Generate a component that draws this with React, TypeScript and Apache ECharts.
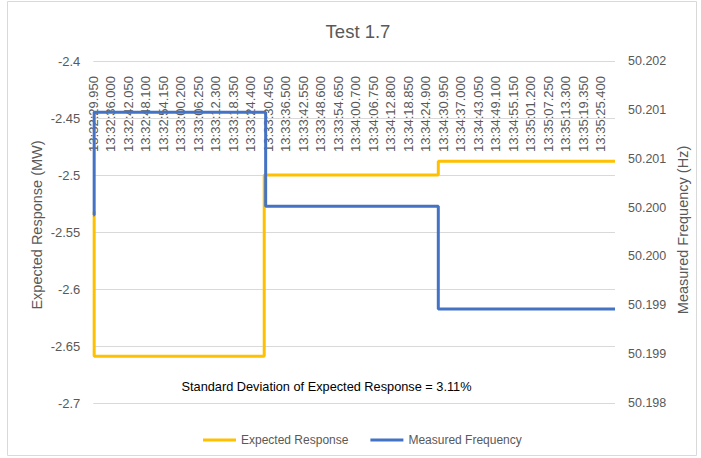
import React, { useEffect, useRef } from "react";
import * as echarts from "echarts";

const FONT = "Liberation Sans";

const xTickLabels = [
  "13:32:29.950", "13:32:36.000", "13:32:42.050", "13:32:48.100", "13:32:54.150",
  "13:33:00.200", "13:33:06.250", "13:33:12.300", "13:33:18.350", "13:33:24.400",
  "13:33:30.450", "13:33:36.500", "13:33:42.550", "13:33:48.600", "13:33:54.650",
  "13:34:00.700", "13:34:06.750", "13:34:12.800", "13:34:18.850", "13:34:24.900",
  "13:34:30.950", "13:34:37.000", "13:34:43.050", "13:34:49.100", "13:34:55.150",
  "13:35:01.200", "13:35:07.250", "13:35:13.300", "13:35:19.350", "13:35:25.400",
];
const tickStepSec = 6.05;
const xMaxSec = 180.4;

// seconds since 13:32:29.950, value held from that time until the next point
const expectedT = [0, 0.3, 59.1, 119.3, 180.4];
const expectedV = [-2.532, -2.659, -2.5, -2.488, -2.488];
const freqT = [0, 0.3, 59.6, 119.3, 180.4];
const freqV = [50.2002, 50.2014, 50.2003, 50.1991, 50.1991];

const leftMin = -2.7;
const leftMax = -2.4;
const leftStep = 0.05;
const rightMin = 50.198;
const rightMax = 50.202;
const rightSplits = 7;

const titleText = "Test 1.7";
const noteText = "Standard Deviation of Expected Response = 3.11%";
const leftName = "Expected Response (MW)";
const rightName = "Measured Frequency (Hz)";
const seriesNames = ["Expected Response", "Measured Frequency"];

export default function App() {
  const ref = useRef<HTMLDivElement>(null);
  useEffect(() => {
    if (!ref.current) return;
    const chart = echarts.init(ref.current, undefined, { renderer: "svg" });
    const gray = "#595959";
    chart.setOption({
      animation: false,
      backgroundColor: "#ffffff",
      grid: {
        left: 93.3,
        right: 86,
        top: 61,
        bottom: 55,
        containLabel: false,
        outerBoundsMode: "none",
      },
      xAxis: {
        type: "value",
        position: "top",
        min: 0,
        max: xMaxSec,
        interval: tickStepSec,
        axisLine: { show: false, onZero: false },
        axisTick: { show: false },
        splitLine: { show: false },
        axisLabel: {
          inside: true,
          rotate: -90,
          margin: 15,
          color: gray,
          fontSize: 13,
          fontFamily: FONT,
          showMaxLabel: false,
          formatter: (v: number) => {
            const i = Math.round(v / tickStepSec);
            return Math.abs(i * tickStepSec - v) < 1e-6 ? xTickLabels[i] ?? "" : "";
          },
        },
      },
      yAxis: [
        {
          type: "value",
          position: "left",
          min: leftMin,
          max: leftMax,
          interval: leftStep,
          axisLine: { show: false },
          axisTick: { show: false },
          splitLine: { show: true, lineStyle: { color: "#d9d9d9", width: 1 } },
          axisLabel: {
            color: gray,
            fontSize: 13,
            fontFamily: FONT,
            margin: 13,
            formatter: (v: number) => String(+v.toFixed(2)),
          },
        },
        {
          type: "value",
          position: "right",
          min: rightMin,
          max: rightMax,
          interval: (rightMax - rightMin) / rightSplits,
          axisLine: { show: false },
          axisTick: { show: false },
          splitLine: { show: false },
          axisLabel: {
            color: gray,
            fontSize: 12.5,
            fontFamily: FONT,
            margin: 13,
            formatter: (v: number) => v.toFixed(3),
          },
        },
      ],
      legend: {
        left: 198,
        top: 429,
        icon: "rect",
        itemWidth: 33,
        itemHeight: 3,
        itemGap: 22,
        textStyle: { color: gray, fontSize: 12, fontFamily: FONT },
        data: seriesNames,
      },
      series: [
        {
          name: seriesNames[0],
          type: "line",
          yAxisIndex: 0,
          step: "end",
          symbol: "none",
          data: expectedT.map((t, i) => [t, expectedV[i]]),
          lineStyle: { color: "#FFC000", width: 3 },
          itemStyle: { color: "#FFC000" },
        },
        {
          name: seriesNames[1],
          type: "line",
          yAxisIndex: 1,
          step: "end",
          symbol: "none",
          data: freqT.map((t, i) => [t, freqV[i]]),
          lineStyle: { color: "#4472C4", width: 3 },
          itemStyle: { color: "#4472C4" },
        },
      ],
      graphic: [
        {
          type: "rect",
          shape: { x: 7.5, y: 1.5, width: 689, height: 454 },
          style: { fill: "none", stroke: "#d9d9d9", lineWidth: 1 },
          silent: true,
        },
        {
          type: "text",
          x: 358,
          y: 31,
          style: {
            text: titleText,
            fill: gray,
            fontSize: 18.5,
            fontFamily: FONT,
            textAlign: "center",
            textVerticalAlign: "middle",
          },
        },
        {
          type: "text",
          x: 181.5,
          y: 386,
          style: {
            text: noteText,
            fill: "#000000",
            fontSize: 12.75,
            fontFamily: FONT,
            textAlign: "left",
            textVerticalAlign: "middle",
          },
        },
        {
          type: "text",
          x: 37,
          y: 225,
          rotation: Math.PI / 2,
          style: {
            text: leftName,
            fill: gray,
            fontSize: 14.5,
            fontFamily: FONT,
            textAlign: "center",
            textVerticalAlign: "middle",
          },
        },
        {
          type: "text",
          x: 683,
          y: 230,
          rotation: Math.PI / 2,
          style: {
            text: rightName,
            fill: gray,
            fontSize: 14.5,
            fontFamily: FONT,
            textAlign: "center",
            textVerticalAlign: "middle",
          },
        },
      ],
    });
    return () => chart.dispose();
  }, []);
  return (
    <div
      ref={ref}
      style={{ position: "fixed", left: 0, top: 0, width: 701, height: 458 }}
    />
  );
}
